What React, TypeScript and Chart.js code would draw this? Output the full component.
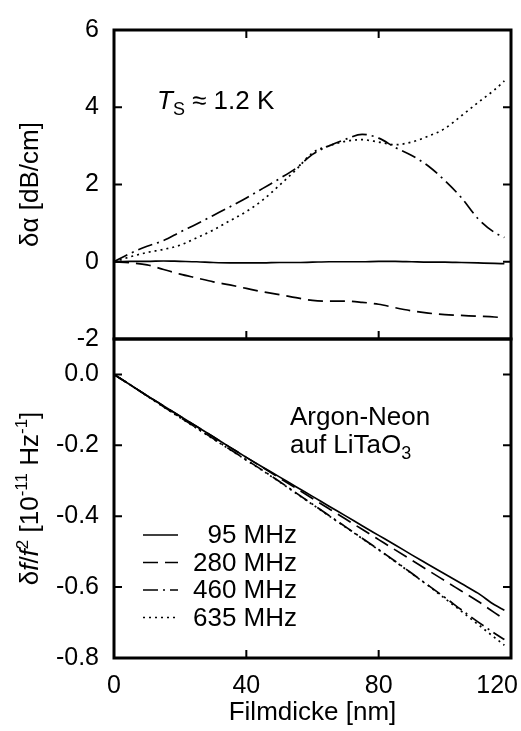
import React, { useEffect, useRef } from "react";
import { Chart, registerables } from "chart.js";

Chart.register(...registerables);

// ---------- data ----------
const thickness = [0, 5, 10, 15, 20, 25, 30, 35, 40, 45, 50, 55, 60, 65, 70, 75, 80, 85, 90, 95, 100, 105, 110, 115, 118];

// attenuation change δα [dB/cm]
const alpha95 = [0, 0.01, 0.01, 0.02, 0.01, 0, -0.02, -0.03, -0.03, -0.03, -0.02, -0.02, -0.01, 0, 0, 0, 0.01, 0.01, 0, -0.01, -0.01, -0.02, -0.03, -0.04, -0.05];
const alpha280 = [0, -0.03, -0.08, -0.2, -0.32, -0.42, -0.52, -0.6, -0.69, -0.78, -0.85, -0.93, -1.0, -1.02, -1.02, -1.05, -1.1, -1.19, -1.27, -1.33, -1.37, -1.39, -1.41, -1.43, -1.45];
const alpha460 = [0, 0.22, 0.4, 0.55, 0.77, 0.98, 1.2, 1.42, 1.65, 1.9, 2.15, 2.42, 2.78, 3.0, 3.17, 3.3, 3.2, 2.96, 2.75, 2.48, 2.1, 1.66, 1.12, 0.76, 0.63];
const alpha635 = [0, 0.13, 0.24, 0.32, 0.43, 0.62, 0.82, 1.06, 1.3, 1.6, 1.98, 2.38, 2.82, 3.0, 3.12, 3.16, 3.1, 3.03, 3.1, 3.25, 3.45, 3.78, 4.12, 4.45, 4.68];

// frequency shift δf/f² [1e-11 Hz^-1]
const shift95 = [0, -0.03, -0.06, -0.089, -0.118, -0.147, -0.176, -0.205, -0.234, -0.262, -0.289, -0.317, -0.344, -0.372, -0.399, -0.427, -0.454, -0.481, -0.509, -0.536, -0.563, -0.59, -0.617, -0.65, -0.665];
const shift280 = [0, -0.03, -0.06, -0.089, -0.118, -0.147, -0.176, -0.205, -0.234, -0.263, -0.292, -0.321, -0.35, -0.379, -0.408, -0.437, -0.466, -0.495, -0.524, -0.553, -0.582, -0.611, -0.64, -0.672, -0.691];
const shift460 = [0, -0.03, -0.06, -0.091, -0.121, -0.151, -0.181, -0.211, -0.241, -0.271, -0.302, -0.334, -0.366, -0.398, -0.43, -0.462, -0.494, -0.527, -0.561, -0.595, -0.629, -0.664, -0.698, -0.73, -0.748];
const shift635 = [0, -0.03, -0.061, -0.092, -0.122, -0.152, -0.182, -0.212, -0.242, -0.272, -0.303, -0.335, -0.367, -0.399, -0.431, -0.463, -0.495, -0.528, -0.562, -0.596, -0.632, -0.668, -0.705, -0.742, -0.764];

const freqLabels = ["95 MHz", "280 MHz", "460 MHz", "635 MHz"];
const xTicks = [0, 40, 80, 120];
const alphaTicks = [-2, 0, 2, 4, 6];
const shiftTicks = [-0.8, -0.6, -0.4, -0.2, 0];

// ---------- styles ----------
const FONT = "'Liberation Sans', Arial, Helvetica, sans-serif";
const TS = 25; // tick label size
const FS = 26; // other text size
const dashes: number[][] = [[], [15, 7], [15, 5, 2, 5], [2, 4]];

type Seg = { t: string; font: string; dy?: number };

function drawRich(ctx: CanvasRenderingContext2D, segs: Seg[], x: number, y: number, align: "left" | "center" | "right") {
  let w = 0;
  for (const s of segs) {
    ctx.font = s.font;
    w += ctx.measureText(s.t).width;
  }
  let cx = align === "left" ? x : align === "center" ? x - w / 2 : x - w;
  ctx.textAlign = "left";
  ctx.textBaseline = "alphabetic";
  for (const s of segs) {
    ctx.font = s.font;
    ctx.fillText(s.t, cx, y + (s.dy || 0));
    cx += ctx.measureText(s.t).width;
  }
}

function makeDatasets(series: number[][]) {
  return series.map((vals, i) => ({
    label: freqLabels[i],
    data: vals.map((v, j) => ({ x: thickness[j], y: v })),
    borderColor: "#000",
    backgroundColor: "#000",
    borderWidth: 1.7,
    borderDash: dashes[i],
    pointRadius: 0,
    fill: false,
    cubicInterpolationMode: "monotone" as const,
  }));
}

function drawFrame(chart: any, yVals: number[], xTop: boolean, xBottom: boolean) {
  const { ctx, chartArea: a } = chart;
  const xs = chart.scales.x;
  const ys = chart.scales.y;
  ctx.save();
  ctx.strokeStyle = "#000";
  ctx.setLineDash([]);
  ctx.lineWidth = 2;
  const L = 8;
  ctx.beginPath();
  for (const v of xTicks) {
    const px = xs.getPixelForValue(v);
    if (px <= a.left + 2 || px >= a.right - 2) continue;
    if (xTop) {
      ctx.moveTo(px, a.top);
      ctx.lineTo(px, a.top + L);
    }
    if (xBottom) {
      ctx.moveTo(px, a.bottom);
      ctx.lineTo(px, a.bottom - L);
    }
  }
  for (const v of yVals) {
    const py = ys.getPixelForValue(v);
    if (py <= a.top + 2 || py >= a.bottom - 2) continue;
    ctx.moveTo(a.left, py);
    ctx.lineTo(a.left + L, py);
    ctx.moveTo(a.right, py);
    ctx.lineTo(a.right - L, py);
  }
  ctx.stroke();
  ctx.lineWidth = 3;
  ctx.strokeRect(a.left, a.top, a.right - a.left, a.bottom - a.top);
  ctx.restore();
}

const topPlugin = {
  id: "topDecor",
  afterDraw(chart: any) {
    const { ctx, chartArea: a } = chart;
    drawFrame(chart, alphaTicks, true, true);
    ctx.save();
    ctx.fillStyle = "#000";
    // y title
    ctx.translate(38, (a.top + a.bottom) / 2);
    ctx.rotate(-Math.PI / 2);
    drawRich(ctx, [{ t: "δα [dB/cm]", font: `${FS}px ${FONT}` }], 0, 0, "center");
    ctx.restore();
    // annotation
    ctx.save();
    ctx.fillStyle = "#000";
    drawRich(
      ctx,
      [
        { t: "T", font: `italic ${FS}px ${FONT}` },
        { t: "S", font: `18px ${FONT}`, dy: 6 },
        { t: " ≈ 1.2 K", font: `${FS}px ${FONT}` },
      ],
      a.left + 43,
      a.top + 79,
      "left"
    );
    ctx.restore();
  },
};

const bottomPlugin = {
  id: "bottomDecor",
  afterDraw(chart: any) {
    const { ctx, chartArea: a } = chart;
    const xs = chart.scales.x;
    drawFrame(chart, shiftTicks, false, true);
    ctx.save();
    ctx.fillStyle = "#000";
    // x tick labels
    ctx.font = `${TS}px ${FONT}`;
    ctx.textBaseline = "alphabetic";
    ctx.textAlign = "left";
    for (const v of xTicks) {
      const s = String(v);
      const w = ctx.measureText(s).width;
      const px = xs.getPixelForValue(v);
      const left = Math.min(px - w / 2, chart.width - 3 - w);
      ctx.fillText(s, left, a.bottom + 35);
    }
    ctx.restore();

    // y title
    ctx.save();
    ctx.fillStyle = "#000";
    ctx.translate(38, (a.top + a.bottom) / 2);
    ctx.rotate(-Math.PI / 2);
    const n = `${FS}px ${FONT}`;
    const it = `italic ${FS}px ${FONT}`;
    const sm = `17px ${FONT}`;
    drawRich(
      ctx,
      [
        { t: "δ", font: n },
        { t: "f", font: it },
        { t: "/", font: n },
        { t: "f", font: it },
        { t: "2", font: sm, dy: -10 },
        { t: " [10", font: n },
        { t: "-11", font: sm, dy: -11 },
        { t: " Hz", font: n },
        { t: "-1", font: sm, dy: -11 },
        { t: "]", font: n },
      ],
      0,
      0,
      "center"
    );
    ctx.restore();

    // annotation
    ctx.save();
    ctx.fillStyle = "#000";
    drawRich(ctx, [{ t: "Argon-Neon", font: n }], 290, a.top + 86, "left");
    drawRich(
      ctx,
      [
        { t: "auf LiTaO", font: n },
        { t: "3", font: `18px ${FONT}`, dy: 6 },
      ],
      290,
      a.top + 114,
      "left"
    );
    ctx.restore();

    // legend
    ctx.save();
    ctx.fillStyle = "#000";
    ctx.strokeStyle = "#000";
    ctx.lineWidth = 1.7;
    chart.data.datasets.forEach((ds: any, i: number) => {
      const y = a.top + 196 + i * 27.5;
      ctx.setLineDash(ds.borderDash || []);
      ctx.beginPath();
      ctx.moveTo(143, y);
      ctx.lineTo(178, y);
      ctx.stroke();
      ctx.setLineDash([]);
      ctx.font = n;
      ctx.textAlign = "right";
      ctx.textBaseline = "middle";
      ctx.fillText(ds.label, 297, y + 1);
    });
    ctx.restore();
  },
};

export default function App() {
  const topRef = useRef<HTMLCanvasElement>(null);
  const botRef = useRef<HTMLCanvasElement>(null);

  useEffect(() => {
    const common = {
      animation: false as const,
      responsive: false,
      devicePixelRatio: 1,
      plugins: { legend: { display: false }, tooltip: { enabled: false } },
      events: [] as any[],
    };

    const top = new Chart(topRef.current!, {
      type: "line",
      data: { datasets: makeDatasets([alpha95, alpha280, alpha460, alpha635]) as any },
      options: {
        ...common,
        layout: { padding: { left: 0, right: 10, top: 20, bottom: 392 } },
        scales: {
          x: { type: "linear", min: 0, max: 120, display: false },
          y: {
            type: "linear",
            min: -2,
            max: 6,
            afterBuildTicks: (s: any) => {
              s.ticks = alphaTicks.map((v) => ({ value: v }));
            },
            afterFit: (s: any) => {
              s.width = 114;
            },
            grid: { display: false, drawTicks: false },
            border: { display: false },
            ticks: {
              font: { family: FONT, size: TS },
              color: "#000",
              padding: 15,
              callback: (v: any) => String(v),
            },
          },
        },
      } as any,
      plugins: [topPlugin],
    });

    const bottom = new Chart(botRef.current!, {
      type: "line",
      data: { datasets: makeDatasets([shift95, shift280, shift460, shift635]) as any },
      options: {
        ...common,
        layout: { padding: { left: 0, right: 10, top: 339, bottom: 0 } },
        scales: {
          x: {
            type: "linear",
            min: 0,
            max: 120,
            grid: { display: false, drawTicks: false },
            border: { display: false },
            ticks: { display: false },
            afterFit: (s: any) => {
              s.height = 73;
            },
            title: {
              display: true,
              text: "Filmdicke [nm]",
              color: "#000",
              font: { family: FONT, size: FS },
              padding: { top: 0, bottom: 3 },
            },
          },
          y: {
            type: "linear",
            min: -0.8,
            max: 0.1,
            afterBuildTicks: (s: any) => {
              s.ticks = shiftTicks.map((v) => ({ value: v }));
            },
            afterFit: (s: any) => {
              s.width = 114;
            },
            grid: { display: false, drawTicks: false },
            border: { display: false },
            ticks: {
              font: { family: FONT, size: TS },
              color: "#000",
              padding: 15,
              callback: (v: any) => Number(v).toFixed(1),
            },
          },
        },
      } as any,
      plugins: [bottomPlugin],
    });

    return () => {
      top.destroy();
      bottom.destroy();
    };
  }, []);

  const cs: React.CSSProperties = { position: "absolute", left: 0, top: 0, width: 521, height: 731 };
  return (
    <div style={{ position: "absolute", left: 0, top: 0, width: 521, height: 731, background: "#fff" }}>
      <canvas ref={topRef} width={521} height={731} style={cs} />
      <canvas ref={botRef} width={521} height={731} style={cs} />
    </div>
  );
}
